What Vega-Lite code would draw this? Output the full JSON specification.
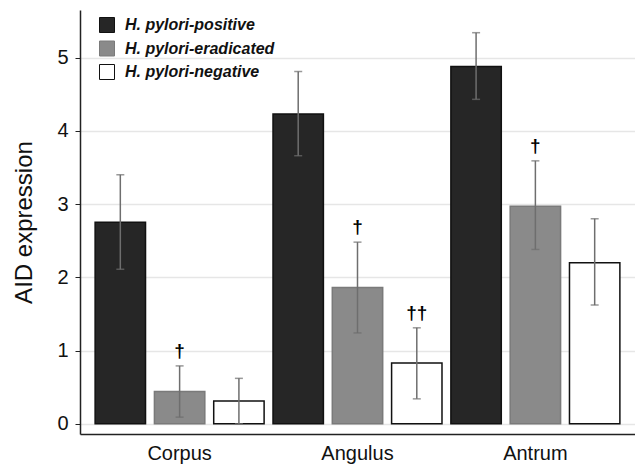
{
  "$schema": "https://vega.github.io/schema/vega-lite/v6.json",
  "width": 555,
  "height": 424,
  "autosize": "none",
  "padding": {"left": 80, "top": 10, "right": 0, "bottom": 31},
  "background": "white",
  "config": {
    "font": "Liberation Sans",
    "view": {"stroke": null},
    "axis": {"labelFont": "Liberation Sans", "titleFont": "Liberation Sans", "labelColor": "#111", "titleColor": "#111"}
  },
  "data": {
    "values": [
      {"region": "Corpus", "group": "H. pylori-positive", "value": 2.75, "lo": 2.11, "hi": 3.40, "sig": ""},
      {"region": "Corpus", "group": "H. pylori-eradicated", "value": 0.44, "lo": 0.09, "hi": 0.79, "sig": "†"},
      {"region": "Corpus", "group": "H. pylori-negative", "value": 0.31, "lo": 0.0, "hi": 0.62, "sig": ""},
      {"region": "Angulus", "group": "H. pylori-positive", "value": 4.23, "lo": 3.66, "hi": 4.81, "sig": ""},
      {"region": "Angulus", "group": "H. pylori-eradicated", "value": 1.86, "lo": 1.24, "hi": 2.48, "sig": "†"},
      {"region": "Angulus", "group": "H. pylori-negative", "value": 0.83, "lo": 0.34, "hi": 1.31, "sig": "††"},
      {"region": "Antrum", "group": "H. pylori-positive", "value": 4.88, "lo": 4.43, "hi": 5.34, "sig": ""},
      {"region": "Antrum", "group": "H. pylori-eradicated", "value": 2.97, "lo": 2.38, "hi": 3.59, "sig": "†"},
      {"region": "Antrum", "group": "H. pylori-negative", "value": 2.20, "lo": 1.62, "hi": 2.80, "sig": ""}
    ]
  },
  "encoding": {
    "x": {
      "field": "region", "type": "nominal", "sort": ["Corpus", "Angulus", "Antrum"],
      "scale": {"paddingInner": 0, "paddingOuter": 0.06},
      "axis": {"title": null, "labelAngle": 0, "labelFontSize": 20, "ticks": false, "labelPadding": 9, "domainColor": "#222", "domainWidth": 1.5, "grid": false}
    },
    "xOffset": {
      "field": "group", "type": "nominal",
      "sort": ["H. pylori-positive", "H. pylori-eradicated", "H. pylori-negative"],
      "scale": {"paddingInner": 0.15, "paddingOuter": 0.075}
    }
  },
  "layer": [
    {
      "mark": {"type": "bar", "strokeWidth": 1.5},
      "encoding": {
        "y": {
          "field": "value", "type": "quantitative",
          "scale": {"domain": [-0.14, 5.65], "nice": false, "zero": false},
          "axis": {
            "title": "AID expression", "titleFontSize": 24, "titleFontWeight": "normal", "titlePadding": 20,
            "values": [0, 1, 2, 3, 4, 5], "format": "d", "labelFontSize": 20, "labelPadding": 7, "tickSize": 5,
            "tickColor": "#222", "domainColor": "#222", "domainWidth": 1.5,
            "grid": true, "gridColor": "#e6e6e6", "gridWidth": 1.5
          }
        },
        "fill": {
          "field": "group", "type": "nominal",
          "sort": ["H. pylori-positive", "H. pylori-eradicated", "H. pylori-negative"],
          "scale": {"domain": ["H. pylori-positive", "H. pylori-eradicated", "H. pylori-negative"], "range": ["#262626", "#8a8a8a", "#ffffff"]},
          "legend": {
            "title": null, "orient": "none", "legendX": 19, "legendY": 7,
            "symbolType": "square", "symbolSize": 225, "symbolStrokeColor": "#333", "symbolStrokeWidth": 1,
            "labelFontSize": 16, "labelFontWeight": "bold", "labelFontStyle": "italic", "labelColor": "#111",
            "labelOffset": 10, "rowPadding": 3.5
          }
        },
        "stroke": {
          "field": "group", "type": "nominal",
          "scale": {"domain": ["H. pylori-positive", "H. pylori-eradicated", "H. pylori-negative"], "range": ["#111111", "#7a7a7a", "#111111"]},
          "legend": null
        }
      }
    },
    {
      "mark": {"type": "rule", "color": "#6e6e6e", "strokeWidth": 1.5},
      "encoding": {
        "y": {"field": "lo", "type": "quantitative"},
        "y2": {"field": "hi"}
      }
    },
    {
      "mark": {"type": "tick", "color": "#6e6e6e", "size": 8, "thickness": 1.5, "orient": "horizontal"},
      "encoding": {"y": {"field": "lo", "type": "quantitative"}}
    },
    {
      "mark": {"type": "tick", "color": "#6e6e6e", "size": 8, "thickness": 1.5, "orient": "horizontal"},
      "encoding": {"y": {"field": "hi", "type": "quantitative"}}
    },
    {
      "mark": {"type": "text", "dy": -15, "baseline": "middle", "fontSize": 19, "fontWeight": "bold", "color": "#000"},
      "encoding": {
        "y": {"field": "hi", "type": "quantitative"},
        "text": {"field": "sig"}
      }
    }
  ]
}
